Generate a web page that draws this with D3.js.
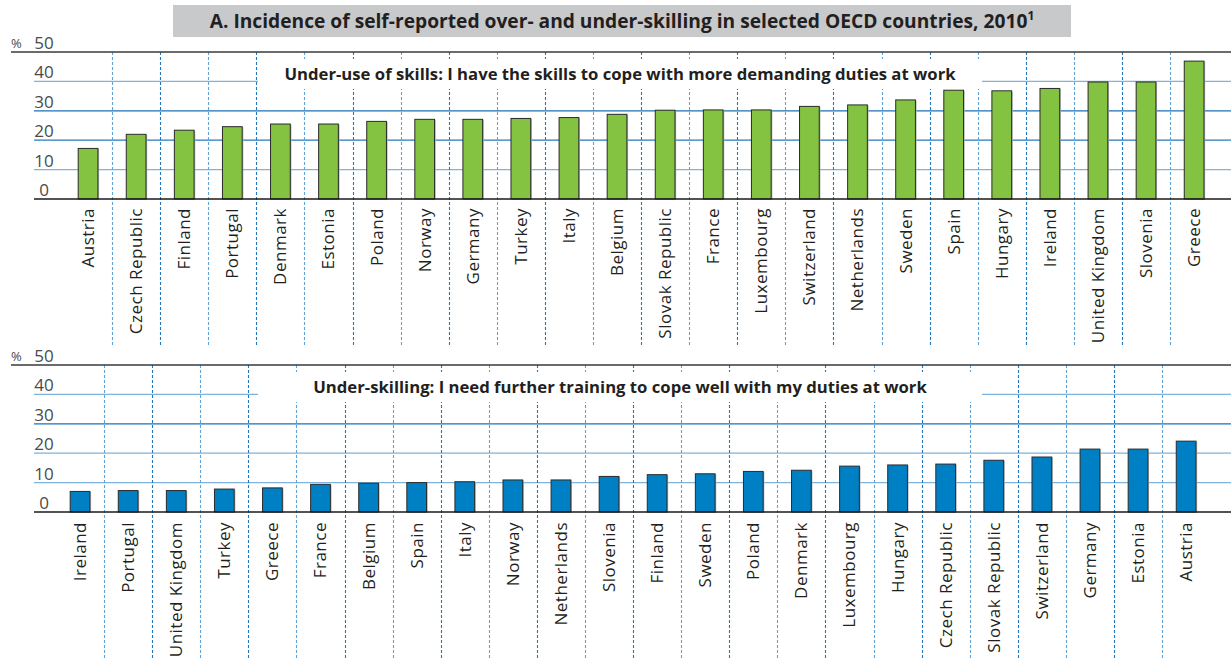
<!DOCTYPE html>
<html>
<head>
<meta charset="utf-8">
<script src="https://cdn.jsdelivr.net/npm/d3@7"></script>
<style>
  body { margin: 0; background: #fff; }
  svg { display: block; }
  text { font-family: "Open Sans", Lato, sans-serif; fill: #231f20; }
</style>
</head>
<body>
<svg id="chart" width="1231" height="658"></svg>
<script>
// Panel 1: under-use of skills
const overCountries = ["Austria", "Czech Republic", "Finland", "Portugal", "Denmark", "Estonia", "Poland",
  "Norway", "Germany", "Turkey", "Italy", "Belgium", "Slovak Republic", "France", "Luxembourg",
  "Switzerland", "Netherlands", "Sweden", "Spain", "Hungary", "Ireland", "United Kingdom", "Slovenia", "Greece"];
const overValues = [17.2, 22.0, 23.4, 24.6, 25.5, 25.5, 26.4, 27.1, 27.1, 27.4, 27.7, 28.8, 30.2, 30.3, 30.3,
  31.5, 32.0, 33.7, 37.0, 36.8, 37.6, 39.8, 39.8, 46.9];

// Panel 2: under-skilling
const underCountries = ["Ireland", "Portugal", "United Kingdom", "Turkey", "Greece", "France", "Belgium", "Spain",
  "Italy", "Norway", "Netherlands", "Slovenia", "Finland", "Sweden", "Poland", "Denmark", "Luxembourg",
  "Hungary", "Czech Republic", "Slovak Republic", "Switzerland", "Germany", "Estonia", "Austria"];
const underValues = [7.0, 7.3, 7.3, 7.8, 8.2, 9.4, 9.8, 10.0, 10.3, 10.9, 10.9, 12.1, 12.7, 13.0, 13.8, 14.2,
  15.6, 16.0, 16.3, 17.6, 18.7, 21.4, 21.4, 24.1];

const yTicks = [0, 10, 20, 30, 40, 50];
const titleText = "A. Incidence of self-reported over- and under-skilling in selected OECD countries, 2010";
const subtitleTop = "Under-use of skills: I have the skills to cope with more demanding duties at work";
const subtitleBottom = "Under-skilling: I need further training to cope well with my duties at work";

const W = 1231;
const svg = d3.select("#chart");

// title box
svg.append("rect").attr("x", 173).attr("y", 5).attr("width", 898).attr("height", 32).attr("fill", "#c8c9cb");
const title = svg.append("text").attr("x", 622).attr("y", 28).attr("text-anchor", "middle")
  .attr("font-size", 19.2).attr("font-weight", "bold");
title.append("tspan").text(titleText);
title.append("tspan").text("1").attr("font-size", 12).attr("dy", -8);

function drawPanel(cfg) {
  const { countries, values, top, bottom, x0, fill, subtitle, labelTop, lineEnd, gridColors } = cfg;
  const g = svg.append("g");

  const x = d3.scaleBand().domain(countries).range([x0, x0 + 24 * 48.09]).paddingInner(0.59).paddingOuter(0.295);
  const y = d3.scaleLinear().domain([0, 50]).range([bottom, top]);
  const step = x.step();

  // gridlines 10..40
  g.selectAll("line.grid")
    .data(yTicks.filter(d => d > 0 && d < 50))
    .join("line")
    .attr("x1", 34).attr("x2", W)
    .attr("y1", d => y(d)).attr("y2", d => y(d))
    .attr("stroke", (d, i) => gridColors[i])
    .attr("stroke-width", 1.3);

  // dotted separators between countries
  g.selectAll("line.sep")
    .data(countries.slice(1))
    .join("line")
    .attr("x1", d => Math.round(x(d) - (step - x.bandwidth()) / 2) + 0.5)
    .attr("x2", d => Math.round(x(d) - (step - x.bandwidth()) / 2) + 0.5)
    .attr("y1", y(50)).attr("y2", lineEnd)
    .attr("stroke", (d, i) => i % 2 ? "#1f78c1" : "#5ea3da")
    .attr("stroke-width", 1.1)
    .attr("stroke-dasharray", "3,2");

  // blank box behind subtitle
  g.append("rect").attr("x", 258).attr("y", y(50) + 7).attr("width", 724).attr("height", 30).attr("fill", "#fff");
  g.append("text").attr("x", 620).attr("y", y(50) + 28).attr("text-anchor", "middle")
    .attr("font-size", 16.7).attr("font-weight", "bold").text(subtitle);

  // top (50) line
  g.append("line").attr("x1", 11).attr("x2", W).attr("y1", y(50)).attr("y2", y(50))
    .attr("stroke", "#3a3a3a").attr("stroke-width", 1.3);

  // bars with a soft shadow
  const bars = g.selectAll("g.bar").data(countries).join("g");
  bars.append("rect")
    .attr("x", d => x(d) + 1.2).attr("y", (d, i) => y(values[i]) + 0.5)
    .attr("width", x.bandwidth()).attr("height", (d, i) => y(0) - y(values[i]))
    .attr("fill", "#b5b5b5");
  bars.append("rect")
    .attr("x", d => x(d)).attr("y", (d, i) => y(values[i]))
    .attr("width", x.bandwidth()).attr("height", (d, i) => y(0) - y(values[i]))
    .attr("fill", fill).attr("stroke", "#2b2b2b").attr("stroke-width", 1);

  g.append("line").attr("x1", 34).attr("x2", W).attr("y1", y(0)).attr("y2", y(0))
    .attr("stroke", "#1a1a1a").attr("stroke-width", 1.3);

  // tick labels sit above their lines
  g.selectAll("text.tick")
    .data(yTicks)
    .join("text")
    .attr("x", 44).attr("y", d => y(d) - 3)
    .attr("text-anchor", "middle")
    .attr("font-size", 17)
    .style("fill", "#4a4a4a")
    .text(d => d);
  g.append("text").attr("x", 11).attr("y", y(50) - 4).attr("font-size", 13).style("fill", "#4a4a4a").text("%");

  // country labels
  g.selectAll("text.lab")
    .data(countries)
    .join("text")
    .attr("transform", d => `translate(${x(d) + x.bandwidth() / 2},${labelTop}) rotate(-90)`)
    .attr("text-anchor", "end")
    .attr("dy", "0.35em")
    .attr("font-size", 17)
    .attr("letter-spacing", 0.5)
    .text(d => d);
}

drawPanel({
  countries: overCountries, values: overValues, top: 52, bottom: 199, x0: 64,
  fill: "#84c341", subtitle: subtitleTop, labelTop: 208, lineEnd: 345,
  gridColors: ["#7fb2dc", "#2a79bd", "#1f6fb5", "#7fb2dc"]
});
drawPanel({
  countries: underCountries, values: underValues, top: 365, bottom: 512, x0: 56,
  fill: "#0080c4", subtitle: subtitleBottom, labelTop: 522, lineEnd: 658,
  gridColors: ["#7fb2dc", "#7fb2dc", "#1f6fb5", "#7fb2dc"]
});
</script>
</body>
</html>
